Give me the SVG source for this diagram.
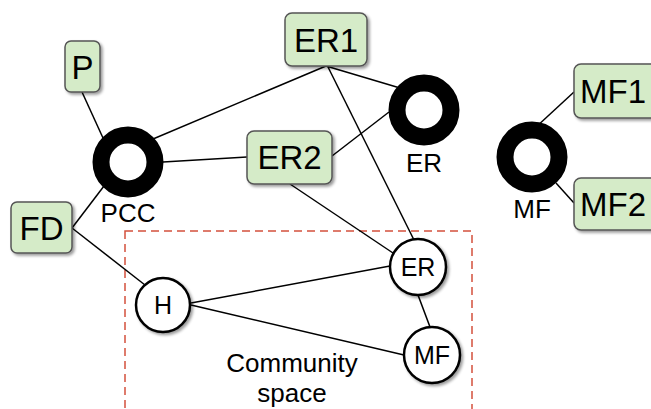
<svg xmlns="http://www.w3.org/2000/svg" width="651" height="409" viewBox="0 0 651 409">
<defs>
<filter id="sh" x="-20%" y="-20%" width="150%" height="150%">
<feGaussianBlur in="SourceAlpha" stdDeviation="1.5"/>
<feOffset dx="2" dy="2" result="b"/>
<feComponentTransfer><feFuncA type="linear" slope="0.4"/></feComponentTransfer>
<feMerge><feMergeNode/><feMergeNode in="SourceGraphic"/></feMerge>
</filter>
</defs>
<style>
.box{fill:#d5ebc8;stroke:#555;stroke-width:1.5}
.big{font-family:"Liberation Sans",Arial,sans-serif;font-size:33px;fill:#000;text-anchor:middle}
.lbl{font-family:"Liberation Sans",Arial,sans-serif;font-size:26px;fill:#000;text-anchor:middle}
.ring{fill:none;stroke:#000;stroke-width:17}
.node{fill:#fff;stroke:#000;stroke-width:2.5}
.ntext{font-family:"Liberation Sans",Arial,sans-serif;font-size:25px;fill:#000;text-anchor:middle}
.edge{stroke:#000;stroke-width:1.5;fill:none}
.comm{fill:none;stroke:#d4503c;stroke-width:1.5;stroke-dasharray:8,5}
</style>
<rect width="651" height="409" fill="#fff"/>
<rect class="comm" x="125" y="231" width="347" height="190"/>
<g id="connectors">
<line class="edge" x1="82" y1="92" x2="103" y2="138"/>
<line class="edge" x1="153" y1="139" x2="326" y2="66"/>
<line class="edge" x1="326" y1="66" x2="400" y2="88"/>
<line class="edge" x1="328" y1="67" x2="414" y2="240"/>
<line class="edge" x1="163" y1="162" x2="247" y2="157"/>
<line class="edge" x1="332" y1="156" x2="389" y2="112"/>
<line class="edge" x1="290" y1="184" x2="393" y2="253"/>
<line class="edge" x1="104" y1="186" x2="72" y2="228"/>
<line class="edge" x1="72" y1="228" x2="145" y2="285"/>
<line class="edge" x1="191" y1="303" x2="390" y2="266"/>
<line class="edge" x1="191" y1="305" x2="404" y2="355"/>
<line class="edge" x1="418" y1="295" x2="430" y2="327"/>
<line class="edge" x1="535" y1="128" x2="574" y2="92"/>
<line class="edge" x1="556" y1="183" x2="574" y2="203"/>
</g>
<g id="P"><rect class="box" x="65" y="41" width="35" height="51" rx="6" filter="url(#sh)"/><text class="big" x="82.5" y="79">P</text></g>
<g id="FD"><rect class="box" x="11" y="202" width="61" height="51" rx="6" filter="url(#sh)"/><text class="big" x="41.5" y="240">FD</text></g>
<g id="ER1"><rect class="box" x="285" y="13" width="82" height="53" rx="7" filter="url(#sh)"/><text class="big" x="326" y="52">ER1</text></g>
<g id="ER2"><rect class="box" x="247" y="131" width="85" height="53" rx="7" filter="url(#sh)"/><text class="big" x="289.5" y="169">ER2</text></g>
<g id="MF1"><rect class="box" x="574" y="64" width="90" height="54" rx="7" filter="url(#sh)"/><text class="big" x="613" y="103">MF1</text></g>
<g id="MF2"><rect class="box" x="574" y="178" width="90" height="52" rx="7" filter="url(#sh)"/><text class="big" x="613" y="216">MF2</text></g>
<g id="PCC"><circle class="ring" cx="128" cy="162" r="27"/><text class="lbl" x="128" y="222">PCC</text></g>
<g id="ERring"><circle class="ring" cx="424" cy="110" r="27"/><text class="lbl" x="424" y="172">ER</text></g>
<g id="MFring"><circle class="ring" cx="532" cy="157" r="27"/><text class="lbl" x="532" y="218">MF</text></g>
<g id="H"><circle class="node" cx="163" cy="305" r="27" filter="url(#sh)"/><text class="ntext" x="163" y="314">H</text></g>
<g id="ERc"><circle class="node" cx="418" cy="267" r="28" filter="url(#sh)"/><text class="ntext" x="418" y="276">ER</text></g>
<g id="MFc"><circle class="node" cx="432" cy="355" r="28" filter="url(#sh)"/><text class="ntext" x="432" y="364">MF</text></g>
<g id="community"><text class="lbl" x="292" y="372">Community</text><text class="lbl" x="292" y="402">space</text></g>
</svg>
